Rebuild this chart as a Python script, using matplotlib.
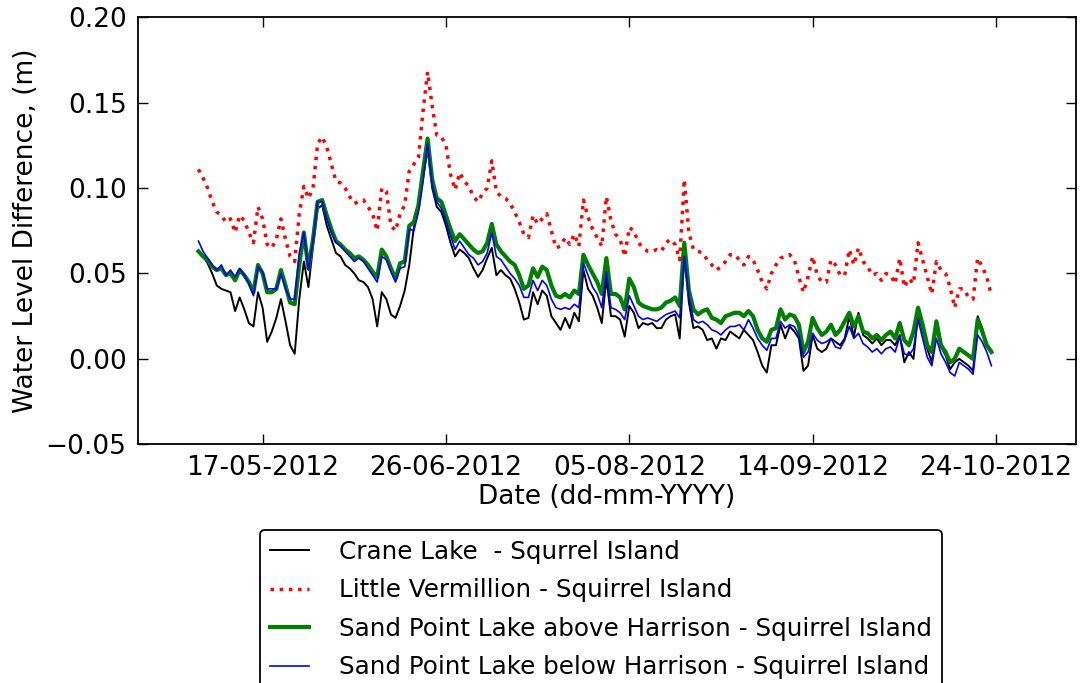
import numpy as np
import pandas as pd
import matplotlib
matplotlib.use('Agg')
import matplotlib.pyplot as plt
import matplotlib.dates as mdates
from matplotlib.ticker import FuncFormatter

# Daily values (m), 03-05-2012 .. 23-10-2012
start_date = '2012-05-03'

crane = [
    0.063, 0.060, 0.056, 0.050, 0.043, 0.041, 0.040, 0.039, 0.028, 0.036,
    0.029, 0.021, 0.019, 0.039, 0.030, 0.010, 0.016, 0.024, 0.035, 0.022,
    0.008, 0.003, 0.035, 0.057, 0.042, 0.066, 0.088, 0.090, 0.078, 0.070,
    0.062, 0.060, 0.055, 0.053, 0.050, 0.046, 0.045, 0.042, 0.035, 0.019,
    0.039, 0.035, 0.026, 0.024, 0.031, 0.040, 0.055, 0.077, 0.090, 0.106,
    0.123, 0.100, 0.089, 0.086, 0.078, 0.068, 0.060, 0.064, 0.062, 0.059,
    0.053, 0.048, 0.052, 0.059, 0.065, 0.049, 0.052, 0.049, 0.047, 0.041,
    0.033, 0.023, 0.024, 0.039, 0.032, 0.040, 0.037, 0.025, 0.021, 0.017,
    0.024, 0.018, 0.027, 0.022, 0.052, 0.041, 0.037, 0.030, 0.021, 0.047,
    0.025, 0.025, 0.023, 0.013, 0.031, 0.027, 0.018, 0.021, 0.020, 0.021,
    0.018, 0.018, 0.023, 0.025, 0.026, 0.012, 0.060, 0.033, 0.018, 0.019,
    0.017, 0.011, 0.012, 0.006, 0.012, 0.011, 0.016, 0.014, 0.012, 0.017,
    0.014, 0.011, 0.004, -0.004, -0.008, 0.008, 0.008, 0.020, 0.012, 0.019,
    0.016, 0.012, -0.007, -0.004, 0.014, 0.006, 0.004, 0.006, 0.012, 0.010,
    0.008, 0.012, 0.025, 0.013, 0.027, 0.014, 0.012, 0.009, 0.012, 0.008,
    0.011, 0.011, 0.008, 0.014, -0.002, 0.004, 0.000, 0.027, 0.016, 0.006,
    -0.002, 0.018, 0.007, 0.002, -0.006, -0.002, 0.000, -0.002, -0.004, -0.007,
    0.025, 0.018, 0.008, 0.005,
]

little_vermillion = [
    0.111, 0.106, 0.100, 0.092, 0.086, 0.084, 0.080, 0.082, 0.074, 0.084,
    0.081, 0.074, 0.068, 0.089, 0.082, 0.067, 0.065, 0.070, 0.082, 0.070,
    0.060, 0.057, 0.085, 0.101, 0.094, 0.100, 0.126, 0.130, 0.124, 0.114,
    0.104, 0.103, 0.100, 0.095, 0.091, 0.092, 0.093, 0.089, 0.085, 0.075,
    0.100, 0.098, 0.078, 0.075, 0.085, 0.090, 0.110, 0.114, 0.118, 0.145,
    0.168, 0.148, 0.131, 0.130, 0.125, 0.108, 0.099, 0.109, 0.104, 0.101,
    0.095, 0.092, 0.097, 0.100, 0.116, 0.098, 0.095, 0.094, 0.091, 0.086,
    0.080, 0.073, 0.071, 0.084, 0.079, 0.082, 0.085, 0.075, 0.065, 0.066,
    0.071, 0.067, 0.073, 0.066, 0.093, 0.083, 0.076, 0.071, 0.066, 0.095,
    0.081, 0.073, 0.070, 0.060, 0.077, 0.075, 0.068, 0.065, 0.063, 0.063,
    0.064, 0.063, 0.068, 0.070, 0.067, 0.058, 0.105, 0.074, 0.064, 0.063,
    0.062, 0.058, 0.055, 0.052, 0.054, 0.057, 0.061, 0.061, 0.058, 0.055,
    0.060, 0.058, 0.052, 0.045, 0.041, 0.050, 0.055, 0.059, 0.060, 0.061,
    0.058, 0.048, 0.039, 0.048, 0.060, 0.049, 0.045, 0.045, 0.058, 0.055,
    0.049, 0.049, 0.064, 0.055, 0.065, 0.057, 0.054, 0.049, 0.050, 0.046,
    0.050, 0.049, 0.044, 0.059, 0.042, 0.047, 0.044, 0.068, 0.058, 0.048,
    0.038, 0.057, 0.052, 0.050, 0.042, 0.030, 0.041, 0.041, 0.036, 0.035,
    0.059, 0.054, 0.048, 0.037,
]

sand_above = [
    0.063, 0.060, 0.058, 0.054, 0.052, 0.053, 0.049, 0.050, 0.046, 0.052,
    0.049, 0.045, 0.039, 0.055, 0.050, 0.039, 0.039, 0.041, 0.052, 0.043,
    0.033, 0.032, 0.055, 0.074, 0.053, 0.070, 0.092, 0.093, 0.084, 0.076,
    0.069, 0.067, 0.064, 0.062, 0.059, 0.060, 0.058, 0.055, 0.051, 0.048,
    0.064, 0.060, 0.053, 0.047, 0.056, 0.057, 0.078, 0.080, 0.090, 0.110,
    0.129, 0.105, 0.094, 0.092, 0.084, 0.076, 0.069, 0.073, 0.070, 0.067,
    0.064, 0.062, 0.063, 0.068, 0.079, 0.067, 0.063, 0.060, 0.057, 0.055,
    0.049, 0.041, 0.043, 0.053, 0.048, 0.054, 0.052, 0.043, 0.037, 0.036,
    0.038, 0.036, 0.040, 0.038, 0.061, 0.055, 0.050, 0.045, 0.038, 0.059,
    0.038, 0.038, 0.036, 0.029, 0.047, 0.042, 0.033, 0.031, 0.030, 0.029,
    0.029, 0.030, 0.033, 0.034, 0.036, 0.031, 0.068, 0.040, 0.029, 0.026,
    0.028, 0.029, 0.024, 0.023, 0.021, 0.025, 0.026, 0.027, 0.027, 0.025,
    0.028, 0.025, 0.017, 0.012, 0.010, 0.017, 0.018, 0.029, 0.023, 0.026,
    0.025, 0.020, 0.004, 0.010, 0.024, 0.018, 0.014, 0.016, 0.020, 0.014,
    0.017, 0.022, 0.027, 0.019, 0.025, 0.016, 0.015, 0.012, 0.014, 0.011,
    0.014, 0.016, 0.012, 0.021, 0.011, 0.008, 0.016, 0.030, 0.020, 0.008,
    0.004, 0.022, 0.008, 0.004, -0.002, 0.000, 0.006, 0.004, 0.002, 0.000,
    0.023, 0.016, 0.008, 0.004,
]

sand_below = [
    0.069, 0.063, 0.059, 0.055, 0.052, 0.055, 0.049, 0.052, 0.048, 0.053,
    0.049, 0.044, 0.037, 0.054, 0.051, 0.041, 0.041, 0.041, 0.050, 0.041,
    0.035, 0.035, 0.062, 0.074, 0.052, 0.069, 0.092, 0.092, 0.082, 0.074,
    0.068, 0.066, 0.063, 0.060, 0.057, 0.059, 0.057, 0.053, 0.049, 0.045,
    0.060, 0.058, 0.051, 0.045, 0.053, 0.054, 0.076, 0.075, 0.086, 0.104,
    0.126, 0.102, 0.092, 0.088, 0.081, 0.072, 0.064, 0.069, 0.065, 0.061,
    0.059, 0.055, 0.057, 0.062, 0.074, 0.060, 0.058, 0.054, 0.050, 0.047,
    0.043, 0.036, 0.036, 0.046, 0.040, 0.046, 0.043, 0.035, 0.030, 0.029,
    0.030, 0.029, 0.032, 0.030, 0.056, 0.049, 0.042, 0.038, 0.030, 0.051,
    0.030, 0.029, 0.027, 0.023, 0.037, 0.031, 0.025, 0.023, 0.024, 0.023,
    0.022, 0.024, 0.026, 0.027, 0.028, 0.024, 0.060, 0.037, 0.023, 0.021,
    0.022, 0.020, 0.017, 0.016, 0.014, 0.017, 0.019, 0.019, 0.020, 0.017,
    0.023, 0.018, 0.012, 0.008, 0.005, 0.012, 0.012, 0.022, 0.018, 0.020,
    0.019, 0.014, 0.001, 0.004, 0.015, 0.011, 0.009, 0.010, 0.012, 0.007,
    0.006, 0.011, 0.019, 0.012, 0.015, 0.009, 0.007, 0.004, 0.006, 0.003,
    0.006, 0.007, 0.004, 0.013, 0.003, 0.002, 0.006, 0.023, 0.012, 0.001,
    -0.004, 0.012, 0.003, -0.002, -0.008, -0.010, -0.002, -0.004, -0.006, -0.009,
    0.014, 0.010, 0.004, -0.004,
]

labels = [
    'Crane Lake  - Squrrel Island',
    'Little Vermillion - Squirrel Island',
    'Sand Point Lake above Harrison - Squirrel Island',
    'Sand Point Lake below Harrison - Squirrel Island',
]

tick_dates = ['2012-05-17', '2012-06-26', '2012-08-05', '2012-09-14', '2012-10-24']

dates = pd.date_range(start_date, periods=len(crane), freq='D')

plt.rcParams['font.family'] = 'DejaVu Sans'

fig = plt.figure(figsize=(10.8, 6.83), dpi=100)
ax = fig.add_axes([0.1275, 0.3495, 0.8688, 0.6252])

ax.plot(dates, crane, color='k', lw=1.4, label=labels[0])
ax.plot(dates, little_vermillion, color='r', lw=2.5, ls=':', label=labels[1])
ax.plot(dates, sand_above, color='g', lw=3, label=labels[2])
ax.plot(dates, sand_below, color='b', lw=1.2, label=labels[3])

ax.set_ylim(-0.05, 0.20)
ax.set_yticks([-0.05, 0.0, 0.05, 0.10, 0.15, 0.20])
# two decimals, with a real minus sign like the original
ax.yaxis.set_major_formatter(FuncFormatter(lambda v, p: f'{v:.2f}'.replace('-', '\u2212')))
ax.set_xlim(pd.Timestamp('2012-04-19 18:00'), pd.Timestamp('2012-11-10 11:00'))
ax.set_xticks(pd.to_datetime(tick_dates))
ax.xaxis.set_major_formatter(mdates.DateFormatter('%d-%m-%Y'))

ax.tick_params(direction='in', top=True, right=True, length=7, width=1,
               labelsize=19, pad=8)
for s in ax.spines.values():
    s.set_linewidth(1.3)

ax.set_xlabel('Date (dd-mm-YYYY)', fontsize=19, labelpad=2)
ax.set_ylabel('Water Level Difference, (m)', fontsize=19, labelpad=5)

leg = fig.legend(loc='upper center', bbox_to_anchor=(0.5565, 0.224),
                 fontsize=17.7, handlelength=1.6, handletextpad=1.2,
                 labelspacing=0.59, borderpad=0.4, borderaxespad=0,
                 fancybox=True, framealpha=1, edgecolor='k')
leg.get_frame().set_linewidth(1.3)

plt.savefig('out.png', dpi=100)
